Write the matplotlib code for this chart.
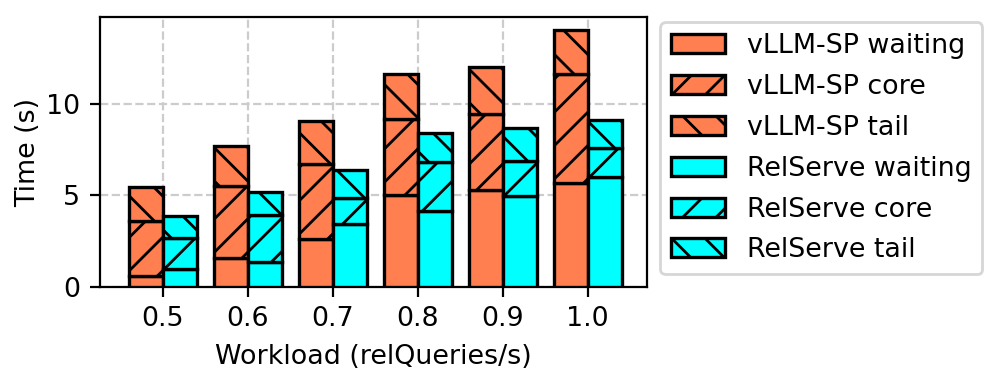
import matplotlib
matplotlib.use("Agg")
import matplotlib.pyplot as plt
import numpy as np

workloads = ["0.5", "0.6", "0.7", "0.8", "0.9", "1.0"]

# segment values
vllm_waiting = [0.62, 1.56, 2.60, 5.02, 5.29, 5.66]
vllm_core = [2.98, 3.95, 4.09, 4.15, 4.15, 5.96]
vllm_tail = [1.85, 2.18, 2.38, 2.45, 2.54, 2.40]

rel_waiting = [0.96, 1.38, 3.42, 4.15, 4.96, 6.02]
rel_core = [1.73, 2.55, 1.42, 2.69, 1.93, 1.55]
rel_tail = [1.18, 1.27, 1.54, 1.54, 1.77, 1.54]

plt.rcParams["font.family"] = ["DejaVu Sans"]
plt.rcParams["font.size"] = 9.7
plt.rcParams["hatch.linewidth"] = 1.0

fig = plt.figure(figsize=(4.99, 1.915), dpi=200)
ax = fig.add_axes([100 / 998, 96 / 383, 547 / 998, 270 / 383])

x = np.arange(len(workloads))
w = 0.4
c1 = "#FF7F50"
c2 = "#00FFFF"
ekw = dict(edgecolor="black", linewidth=1.2, width=w, zorder=3)

vw = np.array(vllm_waiting)
vc = np.array(vllm_core)
vt = np.array(vllm_tail)
rw = np.array(rel_waiting)
rc = np.array(rel_core)
rt = np.array(rel_tail)

ax.bar(x - w / 2, vw, color=c1, label="vLLM-SP waiting", **ekw)
ax.bar(x - w / 2, vc, bottom=vw, color=c1, hatch="//", label="vLLM-SP core", **ekw)
ax.bar(x - w / 2, vt, bottom=vw + vc, color=c1, hatch="\\\\", label="vLLM-SP tail", **ekw)
ax.bar(x + w / 2, rw, color=c2, label="RelServe waiting", **ekw)
ax.bar(x + w / 2, rc, bottom=rw, color=c2, hatch="//", label="RelServe core", **ekw)
ax.bar(x + w / 2, rt, bottom=rw + rc, color=c2, hatch="\\\\", label="RelServe tail", **ekw)

ax.set_xticks(x)
ax.set_xticklabels(workloads)
ax.set_xlim(-0.74, 5.7)
ax.set_xlabel("Workload (relQueries/s)")
ax.set_ylabel("Time (s)", labelpad=2)
ax.grid(True, linestyle="--", color="#cccccc", linewidth=0.8, zorder=0)
ax.set_axisbelow(True)

fig.legend(loc="upper left", bbox_to_anchor=(647 / 998, 1 - 9 / 383),
           frameon=True, fontsize=9.7, labelspacing=0.55)

fig.savefig("out.png", dpi=200)
